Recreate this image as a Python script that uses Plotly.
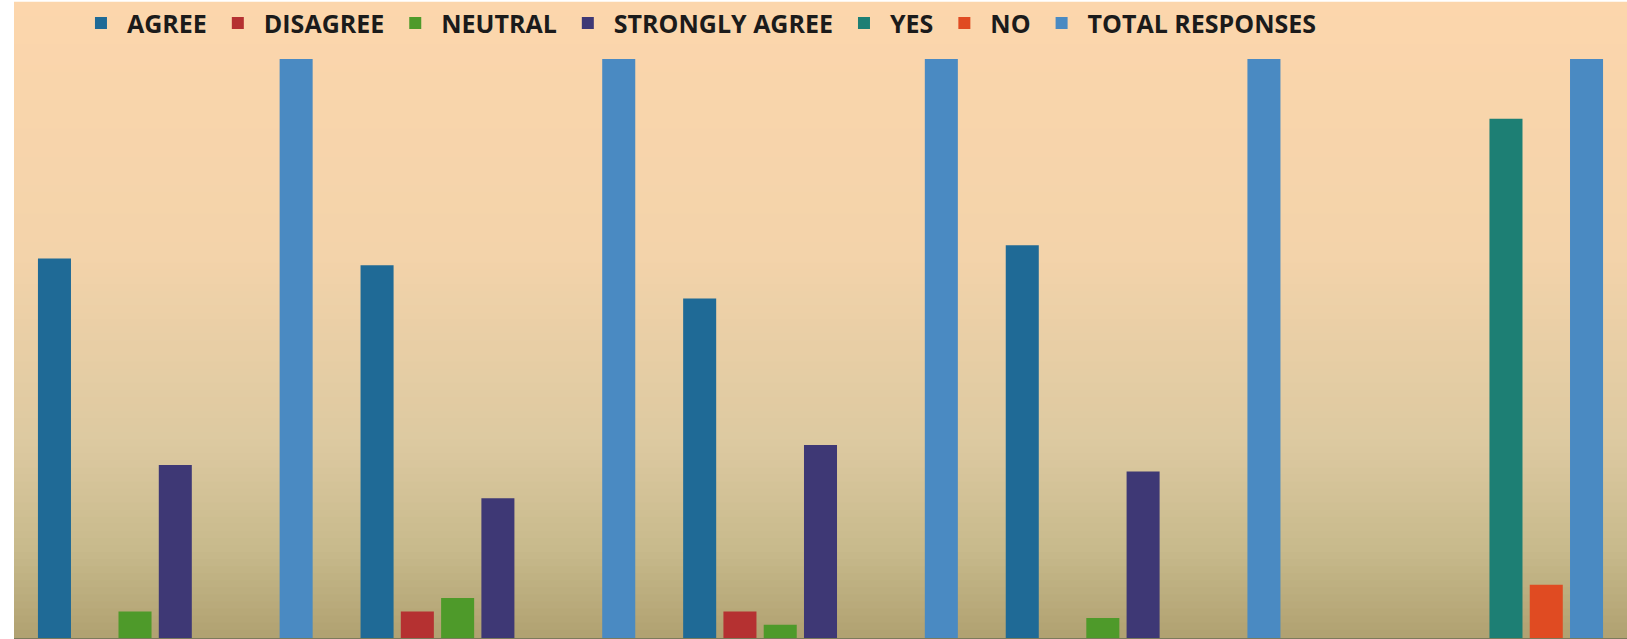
import plotly.graph_objects as go

# ---- data ----
categories = ["Q1", "Q2", "Q3", "Q4", "Q5"]
agree = [57, 56, 51, 59, None]
disagree = [None, 4, 4, None, None]
neutral = [4, 6, 2, 3, None]
strongly_agree = [26, 21, 29, 25, None]
yes = [None, None, None, None, 78]
no = [None, None, None, None, 8]
total_responses = [87, 87, 87, 87, 87]

series_names = ["AGREE", "DISAGREE", "NEUTRAL", "STRONGLY AGREE", "YES", "NO", "TOTAL RESPONSES"]
series_values = [agree, disagree, neutral, strongly_agree, yes, no, total_responses]
series_colors = ["#1F6A96", "#B53131", "#4E9A2A", "#3E3875", "#1D7F74", "#E04B22", "#4A8AC2"]

fig = go.Figure()
for name, vals, col in zip(series_names, series_values, series_colors):
    fig.add_trace(go.Bar(x=categories, y=vals, name=name, marker_color=col,
                         marker_line_width=0))

# ---- background gradient (decoration) ----
stops = [(0.0, (252, 214, 172)), (0.40, (243, 211, 170)), (0.70, (220, 201, 160)),
         (0.86, (200, 186, 140)), (1.0, (176, 161, 113))]

def col_at(t):
    for (t0, c0), (t1, c1) in zip(stops[:-1], stops[1:]):
        if t0 <= t <= t1:
            f = (t - t0) / (t1 - t0) if t1 > t0 else 0
            return tuple(round(a + (b - a) * f) for a, b in zip(c0, c1))
    return stops[-1][1]

n_bands = 90
shapes = []
for i in range(n_bands):
    t = (i + 0.5) / n_bands  # fraction from top
    r, g, b = col_at(t)
    y1 = 1 - i / n_bands
    y0 = 1 - (i + 1) / n_bands
    shapes.append(dict(type="rect", xref="paper", yref="paper", x0=0, x1=1,
                       y0=y0 - 0.002, y1=y1 + 0.002, fillcolor=f"rgb({r},{g},{b})",
                       line=dict(width=0), layer="below"))

fig.update_layout(
    width=1627, height=639,
    margin=dict(l=14, r=0, t=0, b=1),
    paper_bgcolor="white",
    plot_bgcolor="rgba(0,0,0,0)",
    barmode="group",
    bargap=0.126,
    bargroupgap=0.18,
    shapes=shapes,
    showlegend=True,
    legend=dict(orientation="h", x=0.0378, y=0.968, xanchor="left", yanchor="middle",
                bgcolor="rgba(0,0,0,0)", itemwidth=42,
                font=dict(family="Open Sans", size=25, color="#1b1b1b", weight="bold"),
                tracegroupgap=0),
    xaxis=dict(showticklabels=False, showgrid=False, zeroline=False,
               showline=True, linecolor="#7c7a5c", linewidth=1, ticks=""),
    yaxis=dict(range=[0, 95.4], showticklabels=False, showgrid=False,
               zeroline=False, showline=False, ticks=""),
)

fig.write_html("out.html", config={"displayModeBar": False},
               post_script="document.body.style.margin='0';document.body.style.overflow='hidden';")
